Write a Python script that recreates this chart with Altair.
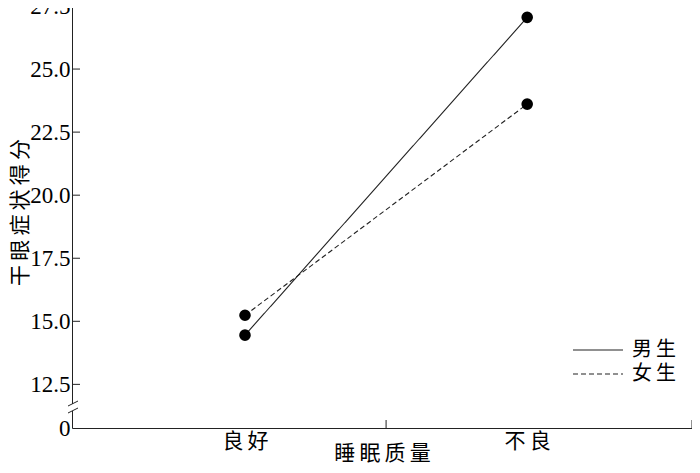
import altair as alt
import pandas as pd

groups = ["良好", "不良"]
group_pos = [1, 2]
series = ["男生", "女生"]
male = [14.45, 27.05]
female = [15.24, 23.61]
y_ticks = [12.5, 15.0, 17.5, 20.0, 22.5, 25.0, 27.5]
y_min = 10.77          # position used for the broken-axis "0"
x_domain = [0.387, 2.584]
x_ticks = [1.5, 2.584]

sp = "\u2009"  # thin space for the wide CJK tracking of the original

rows = []
for s, vals in zip(series, [male, female]):
    for g, p, v in zip(groups, group_pos, vals):
        rows.append({"sex": sp.join(s), "quality": g, "pos": p, "score": v})
df = pd.DataFrame(rows)

serif = "Liberation Serif"
cjk = "Noto Sans CJK SC"
W, H = 620, 422
ink = "#222"

xscale = alt.Scale(domain=x_domain, nice=False, zero=False)
yscale = alt.Scale(domain=[y_min, 27.5], nice=False, zero=False)

x_enc = alt.X(
    "pos:Q", scale=xscale,
    axis=alt.Axis(
        values=group_pos,
        labelExpr=f"datum.value == 1 ? '{sp.join(groups[0])}' : '{sp.join(groups[1])}'",
        ticks=False, grid=False, domainColor=ink, domainWidth=1,
        labelFont=cjk, labelFontSize=21, labelColor="black", labelPadding=2,
        title=sp.join("睡眠质量"), titleFont=cjk, titleFontSize=21,
        titleFontWeight="normal", titleColor="black",
        titleBaseline="bottom", titleY=35,
    ),
)
y_enc = alt.Y(
    "score:Q", scale=yscale,
    axis=alt.Axis(
        values=[y_min] + y_ticks,
        labelExpr="datum.value < 12 ? '0' : format(datum.value, '.1f')",
        ticks=False, grid=False, domainColor=ink, domainWidth=1,
        labelFont=serif, labelFontSize=23, labelColor="black", labelPadding=2,
        title=sp.join("干眼症状得分"), titleFont=cjk, titleFontSize=21,
        titleFontWeight="normal", titleColor="black",
        titleX=-52, titleY=206, titleBaseline="middle", titleAlign="center",
    ),
)

base = alt.Chart(df)

lines = base.mark_line(color=ink, strokeWidth=1.1).encode(
    x=x_enc, y=y_enc,
    strokeDash=alt.StrokeDash(
        "sex:N",
        scale=alt.Scale(domain=[sp.join(s) for s in series], range=[[1, 0], [5, 3]]),
        legend=alt.Legend(
            orient="none", legendX=515, legendY=333, title=None,
            symbolType="M-2.5,0H2.5", symbolSize=400, symbolStrokeWidth=1.1,
            symbolStrokeColor=ink, labelFont=cjk, labelFontSize=20,
            labelColor="black", rowPadding=3, labelOffset=23,
        ),
    ),
    detail="sex:N",
)

points = base.mark_circle(size=135, color="black", opacity=1).encode(
    x=alt.X("pos:Q", scale=xscale), y=alt.Y("score:Q", scale=yscale)
)

ytick_df = pd.DataFrame({"score": y_ticks})
yticks = alt.Chart(ytick_df).mark_rule(color=ink, strokeWidth=1).encode(
    y=alt.Y("score:Q", scale=yscale), x=alt.value(0), x2=alt.value(8)
)

xtick_df = pd.DataFrame({"pos": x_ticks})
xticks = alt.Chart(xtick_df).mark_rule(color=ink, strokeWidth=1).encode(
    x=alt.X("pos:Q", scale=xscale), y=alt.value(H - 8), y2=alt.value(H)
)

one = pd.DataFrame({"a": [0]})
gap = alt.Chart(one).mark_rule(color="white", strokeWidth=4).encode(
    x=alt.value(0), y=alt.value(398), y2=alt.value(405)
)
slash1 = alt.Chart(one).mark_rule(color=ink, strokeWidth=1).encode(
    x=alt.value(-4), x2=alt.value(6), y=alt.value(400), y2=alt.value(395)
)
slash2 = alt.Chart(one).mark_rule(color=ink, strokeWidth=1).encode(
    x=alt.value(-4), x2=alt.value(6), y=alt.value(407), y2=alt.value(402)
)

chart = alt.layer(lines, points, yticks, xticks, gap, slash1, slash2).properties(
    width=W, height=H,
    autosize=alt.AutoSizeParams(type="none"),
    padding={"left": 64, "top": -2, "right": 0, "bottom": 36},
).configure_view(stroke=None).configure(background="white")

chart.save("out.html", embed_options={"renderer": "svg", "actions": False})
